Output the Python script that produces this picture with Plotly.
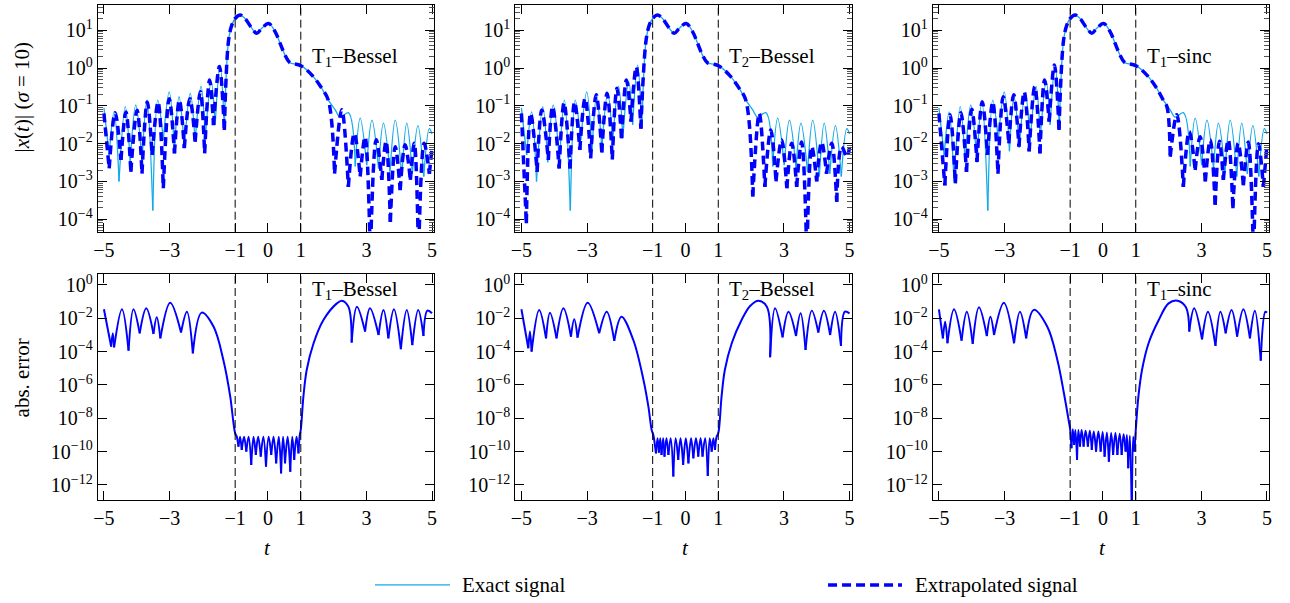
import plotly.graph_objects as go

# ---------------- data ----------------
# exact signal |x(t)|, left tail, shared core, right tail
exact_left = [(-5.00, 8.9e-2), (-4.84, 5.0e-3), (-4.69, 6.9e-2), (-4.54, 1.0e-3), (-4.35, 9.5e-2),
              (-4.20, 3.2e-3), (-4.03, 0.105), (-3.84, 3.2e-3), (-3.69, 0.141), (-3.51, 1.7e-4),
              (-3.36, 0.141), (-3.19, 1.26e-2), (-3.01, 0.234), (-2.85, 6.3e-3), (-2.71, 0.174),
              (-2.55, 7.9e-3), (-2.37, 0.214), (-2.22, 1.12e-2), (-2.04, 0.324), (-1.91, 1.41e-2),
              (-1.73, 0.437), (-1.61, 3.16e-2), (-1.46, 1.20), (-1.33, 2.5e-2)]
core = [(-1.20, 5.5), (-1.10, 13.8), (-1.00, 20.4), (-0.85, 25.1), (-0.70, 20.4), (-0.49, 11.2),
        (-0.34, 8.3), (-0.19, 11.2), (0.02, 15.1), (0.22, 9.1), (0.37, 4.5), (0.52, 2.19),
        (0.67, 1.38), (0.87, 1.26), (1.03, 1.12), (1.34, 0.65), (1.64, 0.29), (1.84, 0.141)]
exact_right = [(2.05, 0.078), (2.20, 0.050), (2.45, 0.066), (2.66, 2.5e-3), (2.81, 0.047),
               (3.01, 2.7e-3), (3.17, 0.042), (3.37, 2.2e-3), (3.52, 0.035), (3.72, 1.8e-3),
               (3.88, 0.042), (4.08, 1.35e-3), (4.23, 0.035), (4.40, 1.6e-3), (4.57, 0.030),
               (4.75, 1.35e-3), (4.92, 0.025), (5.00, 0.018)]

# extrapolated signals
t1b_left = [(-5.00, 0.063), (-4.84, 2.2e-3), (-4.66, 0.066), (-4.48, 3.7e-3), (-4.33, 0.069),
            (-4.18, 1.8e-3), (-3.99, 0.076), (-3.84, 1.6e-3), (-3.68, 0.126), (-3.53, 5.0e-3),
            (-3.35, 0.126), (-3.19, 6.6e-4), (-3.01, 0.155), (-2.85, 5.5e-3), (-2.70, 0.141),
            (-2.55, 7.6e-3), (-2.38, 0.155), (-2.22, 1.12e-2), (-2.06, 0.234), (-1.93, 5.5e-3),
            (-1.78, 0.48), (-1.66, 3.1e-2), (-1.48, 1.10), (-1.33, 2.3e-2)]
t1b_right = [(2.03, 1.6e-3), (2.25, 0.079), (2.45, 7.2e-4), (2.63, 0.0186), (2.81, 1.35e-3),
             (2.96, 0.0151), (3.12, 1e-5), (3.30, 0.0126), (3.47, 1.1e-3), (3.60, 0.0115),
             (3.73, 8.5e-5), (3.88, 8.3e-3), (4.03, 5.9e-4), (4.18, 9.3e-3), (4.34, 1.1e-3),
             (4.46, 0.0102), (4.59, 1e-5), (4.76, 0.0102), (4.92, 1.6e-3), (5.00, 7.9e-3)]
t2b_left = [(-5.00, 0.063), (-4.85, 7.8e-5), (-4.72, 0.063), (-4.52, 1.8e-3), (-4.38, 0.078),
            (-4.18, 3.7e-3), (-4.05, 0.095), (-3.85, 2.2e-3), (-3.70, 0.12), (-3.52, 2.2e-3),
            (-3.38, 0.126), (-3.22, 6.8e-3), (-3.06, 0.158), (-2.89, 4.1e-3), (-2.72, 0.195),
            (-2.55, 5.8e-3), (-2.39, 0.214), (-2.23, 3.8e-3), (-2.09, 0.29), (-1.95, 1.38e-2),
            (-1.80, 0.48), (-1.66, 3.8e-2), (-1.50, 1.07), (-1.36, 2.5e-2)]
t2b_right = [(2.05, 4.0e-4), (2.25, 0.063), (2.42, 7.2e-4), (2.60, 0.023), (2.76, 1.0e-3),
             (2.93, 0.0126), (3.09, 6.6e-4), (3.24, 0.0102), (3.39, 7.2e-4), (3.54, 0.011),
             (3.70, 1e-5), (3.85, 8.3e-3), (4.00, 1.0e-3), (4.15, 0.011), (4.30, 1.6e-3),
             (4.46, 0.0102), (4.61, 2.9e-4), (4.76, 8.3e-3), (4.92, 4.5e-3), (5.00, 7.9e-3)]
t1s_left = [(-5.00, 0.063), (-4.82, 7.9e-4), (-4.66, 0.058), (-4.50, 8.9e-4), (-4.33, 0.066),
            (-4.16, 1.8e-3), (-4.00, 0.081), (-3.84, 3.3e-3), (-3.68, 0.126), (-3.52, 5.0e-3),
            (-3.36, 0.126), (-3.20, 1.6e-3), (-3.04, 0.174), (-2.87, 1.02e-2), (-2.72, 0.195),
            (-2.56, 8.3e-3), (-2.40, 0.234), (-2.25, 6.2e-3), (-2.08, 0.324), (-1.92, 5.5e-3),
            (-1.78, 0.48), (-1.64, 3.8e-2), (-1.48, 1.20), (-1.34, 2.3e-2)]
t1s_right = [(1.95, 0.095), (2.05, 4.5e-3), (2.25, 0.058), (2.45, 7.2e-4), (2.63, 0.021),
             (2.81, 2.0e-3), (2.96, 0.0151), (3.12, 1.0e-3), (3.27, 0.0126), (3.42, 2.4e-4),
             (3.55, 0.0115), (3.67, 1.1e-3), (3.82, 0.0126), (3.96, 1.95e-4), (4.12, 0.0102),
             (4.28, 7.9e-4), (4.43, 0.011), (4.59, 1e-5), (4.74, 0.01), (4.89, 7.2e-4),
             (5.00, 9.3e-3)]

# absolute errors
err_t1b = [(-5.00, 3.5e-2), (-4.78, 2.0e-4), (-4.73, 1.26e-3), (-4.69, 1.8e-4), (-4.45, 3.5e-2),
           (-4.25, 1.15e-4), (-4.10, 3.5e-2), (-3.91, 1.26e-3), (-3.71, 4.0e-2), (-3.49, 1.15e-3),
           (-3.39, 1.15e-2), (-3.28, 6.3e-4), (-2.98, 8.7e-2), (-2.65, 1.4e-3), (-2.47, 2.5e-2),
           (-2.29, 7.9e-5), (-2.02, 2.2e-2), (-1.66, 3.2e-3), (-1.36, 3.2e-5), (-1.15, 2.0e-7),
           (-1.05, 5.0e-9), (-1.00, 1.26e-9),
           (-0.95, 7.9e-10), (-0.90, 2.0e-10), (-0.85, 7.9e-10), (-0.80, 1.26e-10), (-0.73, 7.9e-10),
           (-0.66, 1.0e-10), (-0.59, 7.9e-10), (-0.51, 1.6e-11), (-0.44, 7.9e-10), (-0.37, 6.3e-11),
           (-0.30, 7.9e-10), (-0.22, 5.0e-11), (-0.14, 7.9e-10), (-0.06, 1.26e-11), (0.02, 7.9e-10),
           (0.10, 6.3e-11), (0.17, 7.9e-10), (0.25, 2.0e-11), (0.33, 7.9e-10), (0.40, 5.0e-12),
           (0.46, 7.9e-10), (0.52, 2.0e-11), (0.60, 7.9e-10), (0.68, 6.3e-12), (0.74, 7.9e-10),
           (0.80, 3.2e-11), (0.87, 7.9e-10), (0.93, 7.9e-11), (0.97, 1.0e-9),
           (1.00, 2.0e-9), (1.08, 2.0e-7), (1.18, 7.9e-6), (1.39, 3.2e-4), (1.69, 7.9e-3),
           (2.10, 7.9e-2), (2.25, 0.115), (2.45, 0.05), (2.55, 3.5e-4), (2.71, 0.05),
           (2.96, 1.6e-3), (3.11, 0.04), (3.37, 1.0e-3), (3.52, 0.032), (3.67, 6.3e-4),
           (3.84, 0.035), (4.05, 1.4e-4), (4.23, 0.032), (4.40, 2.5e-4), (4.58, 0.032),
           (4.74, 8.7e-4), (4.86, 0.029), (5.00, 0.02)]
err_t2b = [(-5.00, 3.5e-2), (-4.79, 1.6e-4), (-4.74, 1.6e-3), (-4.69, 1.0e-4), (-4.46, 3.2e-2),
           (-4.25, 6.3e-4), (-4.13, 2.2e-2), (-3.93, 6.3e-4), (-3.72, 4.0e-2), (-3.49, 7.9e-4),
           (-3.39, 8.7e-3), (-3.29, 6.9e-4), (-2.98, 8.7e-2), (-2.63, 1.26e-3), (-2.40, 2.5e-2),
           (-2.17, 4.4e-4), (-1.95, 1.26e-2), (-1.59, 5.0e-4), (-1.28, 2.0e-6), (-1.13, 5.0e-8),
           (-1.03, 2.0e-9),
           (-0.98, 1.0e-9), (-0.90, 7.9e-11), (-0.85, 6.3e-10), (-0.81, 8.7e-11), (-0.77, 6.3e-10),
           (-0.73, 6.3e-11), (-0.68, 6.3e-10), (-0.64, 5.0e-11), (-0.58, 6.3e-10), (-0.52, 6.3e-11),
           (-0.45, 6.3e-10), (-0.37, 3.2e-12), (-0.30, 6.3e-10), (-0.22, 3.2e-11), (-0.15, 6.3e-10),
           (-0.07, 1.6e-11), (0.01, 6.3e-10), (0.09, 2.0e-11), (0.17, 6.3e-10), (0.24, 4.0e-11),
           (0.32, 6.3e-10), (0.39, 5.0e-11), (0.46, 6.3e-10), (0.52, 5.0e-11), (0.60, 6.3e-10),
           (0.68, 3.5e-12), (0.74, 6.3e-10), (0.80, 1.0e-10), (0.85, 6.3e-10), (0.90, 1.26e-10),
           (0.95, 7.9e-10),
           (1.00, 1.26e-9), (1.10, 2.0e-7), (1.20, 7.9e-6), (1.41, 3.2e-4), (1.71, 7.9e-3),
           (1.97, 5.5e-2), (2.22, 0.115), (2.48, 0.05), (2.58, 4.6e-5), (2.73, 0.04),
           (2.96, 7.2e-4), (3.14, 0.025), (3.37, 8.7e-4), (3.51, 0.02), (3.66, 1.26e-4),
           (3.85, 0.029), (4.05, 1.4e-3), (4.22, 0.029), (4.41, 1.0e-3), (4.56, 0.025),
           (4.74, 2.2e-4), (4.86, 0.025), (5.00, 0.02)]
err_t1s = [(-5.00, 3.5e-2), (-4.88, 6.3e-4), (-4.81, 6.3e-3), (-4.74, 3.2e-4), (-4.54, 3.5e-2),
           (-4.31, 4.6e-4), (-4.15, 2.5e-2), (-3.97, 2.9e-4), (-3.78, 4.6e-2), (-3.54, 8.7e-4),
           (-3.43, 1.26e-2), (-3.32, 1.0e-3), (-3.02, 8.7e-2), (-2.71, 3.2e-4), (-2.53, 2.5e-2),
           (-2.34, 6.3e-4), (-2.11, 3.2e-2), (-1.70, 3.2e-3), (-1.39, 3.2e-5), (-1.19, 3.2e-7),
           (-1.03, 5.0e-9),
           (-1.00, 2.2e-9), (-0.96, 1.6e-10), (-0.92, 2.2e-9), (-0.88, 2.5e-10), (-0.84, 2.0e-9),
           (-0.79, 3.2e-11), (-0.75, 2.0e-9), (-0.70, 2.0e-10), (-0.65, 2.0e-9), (-0.59, 2.0e-10),
           (-0.53, 1.8e-9), (-0.46, 2.0e-10), (-0.40, 1.8e-9), (-0.34, 1.26e-10), (-0.28, 1.6e-9),
           (-0.21, 1.0e-10), (-0.14, 1.6e-9), (-0.07, 1.0e-10), (-0.01, 1.5e-9), (0.05, 5.0e-11),
           (0.12, 1.4e-9), (0.18, 2.5e-11), (0.25, 1.3e-9), (0.31, 6.3e-11), (0.38, 1.3e-9),
           (0.44, 6.3e-11), (0.51, 1.2e-9), (0.57, 6.3e-11), (0.63, 1.1e-9), (0.69, 1.0e-10),
           (0.73, 1.0e-9), (0.77, 1.0e-11), (0.82, 9.0e-10), (0.88, 1.0e-14), (0.92, 7.9e-10),
           (0.96, 1.0e-10),
           (1.00, 2.0e-9), (1.08, 2.0e-7), (1.19, 7.9e-6), (1.39, 3.2e-4), (1.70, 7.9e-3),
           (2.00, 7.9e-2), (2.27, 0.115), (2.53, 4.6e-2), (2.63, 1.6e-3), (2.78, 4.0e-2),
           (3.02, 5.5e-4), (3.20, 2.5e-2), (3.43, 2.2e-4), (3.58, 2.5e-2), (3.74, 1.26e-3),
           (3.92, 3.2e-2), (4.09, 7.9e-4), (4.28, 3.5e-2), (4.48, 6.3e-4), (4.63, 2.9e-2),
           (4.81, 2.9e-5), (4.95, 2.5e-2), (5.00, 2.2e-2)]

panel_labels = ["T<sub>1</sub>–Bessel", "T<sub>2</sub>–Bessel", "T<sub>1</sub>–sinc"]
x_tick_vals = [-5, -3, -1, 0, 1, 3, 5]
x_tick_text = ["−5", "−3", "−1", "0", "1", "3", "5"]
top_tick_vals = [1e1, 1e0, 1e-1, 1e-2, 1e-3, 1e-4]
top_tick_text = ["10<sup>1</sup>", "10<sup>0</sup>", "10<sup>−1</sup>", "10<sup>−2</sup>",
                 "10<sup>−3</sup>", "10<sup>−4</sup>"]
bot_tick_vals = [1e0, 1e-2, 1e-4, 1e-6, 1e-8, 1e-10, 1e-12]
bot_tick_text = ["10<sup>0</sup>", "10<sup>−2</sup>", "10<sup>−4</sup>", "10<sup>−6</sup>",
                 "10<sup>−8</sup>", "10<sup>−10</sup>", "10<sup>−12</sup>"]
minor_vals = [m * 10.0 ** k for k in range(-5, 2) for m in range(2, 10)]

# ---------------- styling ----------------
FONT = "Liberation Serif"
CYAN = "rgb(20,170,232)"
BLUE = "#0000ff"
DASH = "9px,5px"

col_dom = [(0.07574, 0.33667), (0.39938, 0.66031), (0.72302, 0.98395)]
top_dom = [0.61575, 0.99221]
bot_dom = [0.17081, 0.54561]


def split(pairs):
    return [p[0] for p in pairs], [p[1] for p in pairs]


def arches(pairs, ratio=3.0):
    """Break the polyline at its sharp minima so each lobe is smoothed on its own
    (gives the cusp-shaped dips of a log-scaled |signal|)."""
    ts, vs = split(pairs)
    xs, ys = [], []
    sx, sy = [ts[0]], [vs[0]]
    for i in range(1, len(ts)):
        sx.append(ts[i])
        sy.append(vs[i])
        if i < len(ts) - 1 and vs[i] * ratio < vs[i - 1] and vs[i] * ratio < vs[i + 1]:
            xs += sx + [None]
            ys += sy + [None]
            sx, sy = [ts[i]], [vs[i]]
    xs += sx
    ys += sy
    return xs, ys


extrap = [(t1b_left, t1b_right), (t2b_left, t2b_right), (t1s_left, t1s_right)]
errors = [err_t1b, err_t2b, err_t1s]

fig = go.Figure()
layout = {}
shapes = []
annotations = []


def ax_name(i):
    return "" if i == 1 else str(i)


for c in range(3):
    it = c + 1
    ib = c + 4
    tx, vx = arches(exact_left + core + exact_right)
    fig.add_trace(go.Scatter(x=tx, y=vx, mode="lines", name="Exact signal", showlegend=False,
                             line=dict(color=CYAN, width=1.3, shape="spline", smoothing=1.0),
                             xaxis="x" + ax_name(it), yaxis="y" + ax_name(it)))
    tl, vl = arches(extrap[c][0] + core + extrap[c][1])
    fig.add_trace(go.Scatter(x=tl, y=vl, mode="lines", name="Extrapolated signal", showlegend=False,
                             line=dict(color=BLUE, width=3.5, dash=DASH, shape="spline", smoothing=1.0),
                             xaxis="x" + ax_name(it), yaxis="y" + ax_name(it)))
    te, ve = arches(errors[c])
    fig.add_trace(go.Scatter(x=te, y=ve, mode="lines", name="abs. error", showlegend=False,
                             line=dict(color=BLUE, width=2, shape="spline", smoothing=1.0),
                             xaxis="x" + ax_name(ib), yaxis="y" + ax_name(ib)))

    for i, ydom, yrange, tv, tt, minor in [
        (it, top_dom, [-4.33, 1.675], top_tick_vals, top_tick_text, True),
        (ib, bot_dom, [-12.9, 0.66], bot_tick_vals, bot_tick_text, False),
    ]:
        layout["xaxis" + ax_name(i)] = dict(
            domain=list(col_dom[c]), anchor="y" + ax_name(i), range=[-5.19, 5.07],
            tickmode="array", tickvals=x_tick_vals, ticktext=x_tick_text,
            ticks="inside", ticklen=9, tickwidth=1, tickcolor="black",
            showline=True, linecolor="black", linewidth=1, mirror="ticks",
            showgrid=False, zeroline=False, automargin=False,
            tickfont=dict(family=FONT, size=20, color="black"))
        yax = dict(
            domain=ydom, anchor="x" + ax_name(i), type="log", range=yrange,
            tickmode="array", tickvals=tv, ticktext=tt,
            ticks="inside", ticklen=9, tickwidth=1, tickcolor="black",
            showline=True, linecolor="black", linewidth=1, mirror="ticks",
            showgrid=False, zeroline=False, automargin=False,
            tickfont=dict(family=FONT, size=20, color="black"))
        if minor:
            yax["minor"] = dict(tickmode="array", tickvals=minor_vals, ticks="inside",
                                ticklen=5, tickwidth=0.8, tickcolor="#555", showgrid=False)
        layout["yaxis" + ax_name(i)] = yax

        for xv in (-1, 1):
            shapes.append(dict(type="line", xref="x" + ax_name(i), yref="y" + ax_name(i) + " domain",
                               x0=xv, x1=xv, y0=0, y1=1,
                               line=dict(color="black", width=1, dash="8px,4px")))

    annotations.append(dict(xref="x" + ax_name(it), yref="y" + ax_name(it) + " domain",
                            x=1.28, y=0.77, xanchor="left", yanchor="middle", showarrow=False,
                            text=panel_labels[c], font=dict(family=FONT, size=21, color="black")))
    annotations.append(dict(xref="x" + ax_name(ib), yref="y" + ax_name(ib) + " domain",
                            x=1.28, y=0.93, xanchor="left", yanchor="middle", showarrow=False,
                            text=panel_labels[c], font=dict(family=FONT, size=21, color="black")))
    annotations.append(dict(xref="x" + ax_name(ib), yref="paper", x=0, y=0.0912,
                            xanchor="center", yanchor="middle", showarrow=False,
                            text="<i>t</i>", font=dict(family=FONT, size=21, color="black")))

annotations.append(dict(xref="paper", yref="paper", x=0.0178, y=0.840, textangle=-90,
                        xanchor="center", yanchor="middle", showarrow=False,
                        text="|<i>x</i>(<i>t</i>)| (<i>σ</i> = 10)",
                        font=dict(family=FONT, size=21, color="black")))
annotations.append(dict(xref="paper", yref="paper", x=0.0178, y=0.374, textangle=-90,
                        xanchor="center", yanchor="middle", showarrow=False,
                        text="abs. error", font=dict(family=FONT, size=21, color="black")))

# legend (drawn manually to match the long sample lines)
shapes.append(dict(type="line", xref="paper", yref="paper", x0=0.2907, x1=0.3488, y0=0.0299, y1=0.0299,
                   line=dict(color=CYAN, width=1.3)))
shapes.append(dict(type="line", xref="paper", yref="paper", x0=0.6419, x1=0.6992, y0=0.0299, y1=0.0299,
                   line=dict(color=BLUE, width=3.5, dash=DASH)))
annotations.append(dict(xref="paper", yref="paper", x=0.3566, y=0.0299, xanchor="left",
                        yanchor="middle", showarrow=False, text="Exact signal",
                        font=dict(family=FONT, size=21, color="black")))
annotations.append(dict(xref="paper", yref="paper", x=0.7078, y=0.0299, xanchor="left",
                        yanchor="middle", showarrow=False, text="Extrapolated signal",
                        font=dict(family=FONT, size=21, color="black")))

fig.update_layout(**layout)
fig.update_layout(template="none", width=1290, height=603, margin=dict(l=0, r=0, t=0, b=0, pad=0),
                  paper_bgcolor="white", plot_bgcolor="white", showlegend=False,
                  shapes=shapes, annotations=annotations,
                  font=dict(family=FONT, color="black"))
fig.write_html("out.html", config={"displayModeBar": False},
               post_script="document.body.style.margin='0px';")
